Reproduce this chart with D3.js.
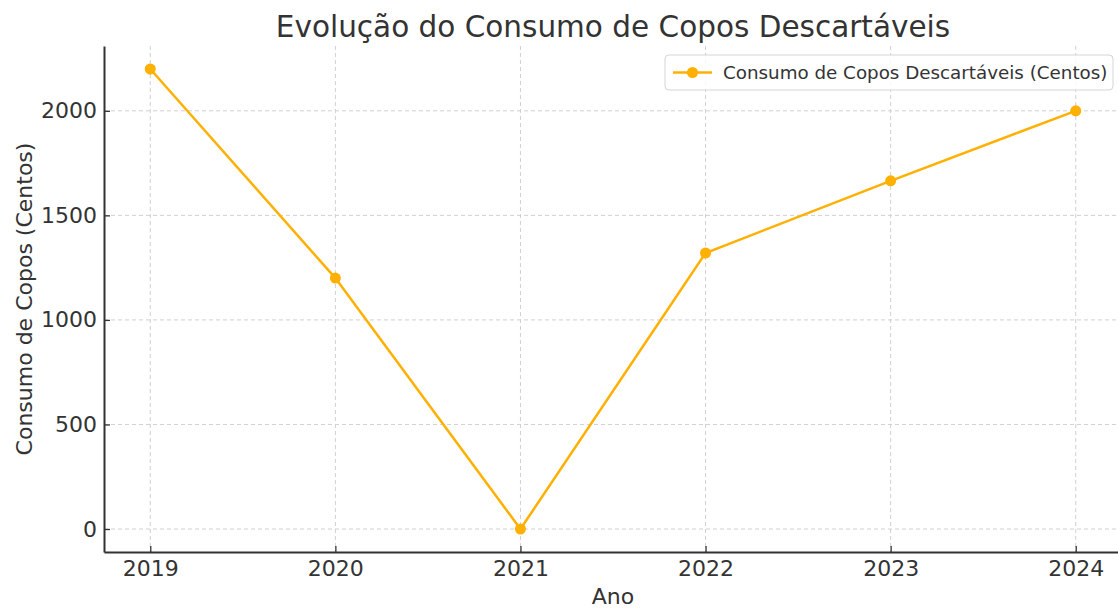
<!DOCTYPE html>
<html>
<head>
<meta charset="utf-8">
<script src="https://cdn.jsdelivr.net/npm/d3@7"></script>
<style>
  html, body { margin: 0; padding: 0; background: #fff; }
  svg { display: block; font-family: "DejaVu Sans", sans-serif; }
</style>
</head>
<body>
<svg id="chart" width="1118" height="609"></svg>
<script>
// data
const anos = [2019, 2020, 2021, 2022, 2023, 2024];
const consumo = [2200, 1200, 0, 1320, 1665, 2000];
const yTicks = [0, 500, 1000, 1500, 2000];
const seriesName = "Consumo de Copos Descartáveis (Centos)";

const color = "#FFB000";
const textColor = "#333";

const svg = d3.select("#chart");
const m = { left: 104, right: -4, top: 46, bottom: 57 };
const width = +svg.attr("width");
const height = +svg.attr("height");
const plotW = width - m.left - m.right;
const plotH = height - m.top - m.bottom;

const x = d3.scaleLinear().domain([2018.75, 2024.25]).range([m.left, m.left + plotW]);
const y = d3.scaleLinear().domain([-110, 2310]).range([m.top + plotH, m.top]);

// grid
const grid = svg.append("g").attr("stroke", "#d0d0d0").attr("stroke-dasharray", "4,3").attr("stroke-width", 1);
grid.selectAll(".gx").data(anos).join("line")
  .attr("x1", d => x(d)).attr("x2", d => x(d))
  .attr("y1", m.top).attr("y2", m.top + plotH);
grid.selectAll(".gy").data(yTicks).join("line")
  .attr("x1", m.left).attr("x2", m.left + plotW)
  .attr("y1", d => y(d)).attr("y2", d => y(d));

// axes (inward ticks)
const xAxis = svg.append("g")
  .attr("transform", `translate(0,${m.top + plotH})`)
  .call(d3.axisBottom(x).tickValues(anos).tickFormat(d3.format("d")).tickSizeInner(-6).tickSizeOuter(0).tickPadding(8));
const yAxis = svg.append("g")
  .attr("transform", `translate(${m.left},0)`)
  .call(d3.axisLeft(y).tickValues(yTicks).tickFormat(d3.format("d")).tickSizeInner(-6).tickSizeOuter(0).tickPadding(7));

[xAxis, yAxis].forEach(a => {
  a.select(".domain").attr("stroke", textColor).attr("stroke-width", 2);
  a.selectAll(".tick line").attr("stroke", textColor).attr("stroke-width", 1.3);
  a.selectAll(".tick text").attr("fill", textColor).style("font-size", "22px")
    .style("font-family", "DejaVu Sans, sans-serif");
});

// line + markers
const line = d3.line().x((d, i) => x(anos[i])).y(d => y(d));
svg.append("path")
  .datum(consumo)
  .attr("fill", "none")
  .attr("stroke", color)
  .attr("stroke-width", 2.5)
  .attr("d", line);

svg.selectAll(".pt").data(consumo).join("circle")
  .attr("cx", (d, i) => x(anos[i]))
  .attr("cy", d => y(d))
  .attr("r", 5.5)
  .attr("fill", color);

// title & labels
svg.append("text")
  .attr("x", 613).attr("y", 37)
  .attr("text-anchor", "middle")
  .attr("fill", textColor)
  .style("font-size", "29.5px")
  .text("Evolução do Consumo de Copos Descartáveis");

svg.append("text")
  .attr("x", 613).attr("y", 604)
  .attr("text-anchor", "middle")
  .attr("fill", textColor)
  .style("font-size", "22px")
  .text("Ano");

svg.append("text")
  .attr("transform", `translate(32,${m.top + plotH / 2}) rotate(-90)`)
  .attr("text-anchor", "middle")
  .attr("fill", textColor)
  .style("font-size", "22px")
  .text("Consumo de Copos (Centos)");

// legend
const lg = svg.append("g").attr("transform", "translate(665,55)");
lg.append("rect")
  .attr("width", 448).attr("height", 35)
  .attr("rx", 4)
  .attr("fill", "#fff").attr("fill-opacity", 0.85)
  .attr("stroke", "#d5d5d5").attr("stroke-width", 1);
lg.append("line")
  .attr("x1", 8).attr("x2", 47).attr("y1", 17.5).attr("y2", 17.5)
  .attr("stroke", color).attr("stroke-width", 2.5);
lg.append("circle").attr("cx", 27.5).attr("cy", 17.5).attr("r", 5.5).attr("fill", color);
lg.append("text")
  .attr("x", 58).attr("y", 24)
  .attr("fill", textColor)
  .style("font-size", "18.3px")
  .text(seriesName);
</script>
</body>
</html>
